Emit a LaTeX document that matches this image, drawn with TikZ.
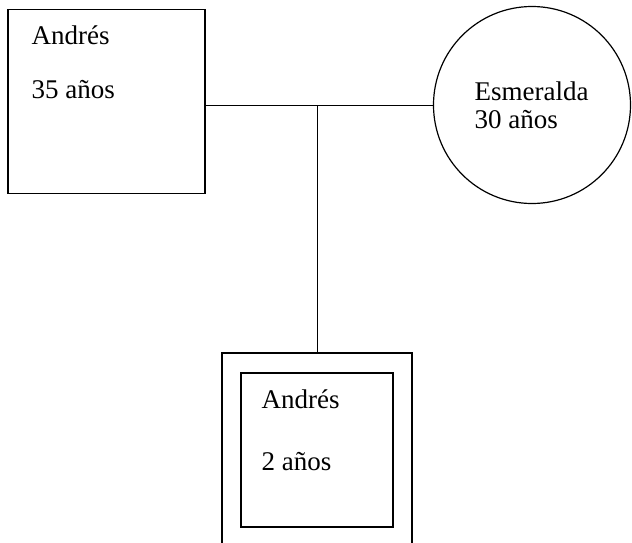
\documentclass[tikz,border=0pt]{standalone}
\usepackage{fontspec}
\setmainfont{Liberation Serif}
\usepackage{tikz}
\usetikzlibrary{positioning,calc}

\begin{document}
\begin{tikzpicture}[x=0.5pt, y=-0.5pt, line width=0.6pt,
    malebox/.style={draw, rectangle, inner sep=0pt},
    femalebox/.style={draw, circle, inner sep=0pt},
    persontext/.style={anchor=base west, inner sep=0pt, font=\fontsize{13.5}{16}\selectfont}]
    \useasboundingbox (0,0) rectangle (632,542);
    \clip (0,0) rectangle (632,542);

    % Parents
    \node[malebox, minimum width=197*0.5pt, minimum height=184*0.5pt] (father) at (106.5,101.5) {};
    \node[persontext] (fathername) at (31,44) {Andrés};
    \node[persontext] (fatherage) at (31,98) {35 años};

    \node[femalebox, minimum size=197*0.5pt] (mother) at (532,105) {};
    \node[persontext] (mothername) at (474,100) {Esmeralda};
    \node[persontext] (motherage) at (474,128) {30 años};

    % Child (index person)
    \node[malebox, minimum width=190*0.5pt, minimum height=210*0.5pt] (child) at (317,458) {};
    \node[malebox, minimum width=152*0.5pt, minimum height=154*0.5pt] (childin) at (317,450) {};
    \node[persontext] (childname) at (261,408) {Andrés};
    \node[persontext] (childage) at (261,470) {2 años};

    % Lines
    \draw[line width=0.45pt] (mother.west -| father.east) -- (mother.west);
    \draw[line width=0.45pt] (child.north) -- (child.north |- mother.west);
\end{tikzpicture}
\end{document}
